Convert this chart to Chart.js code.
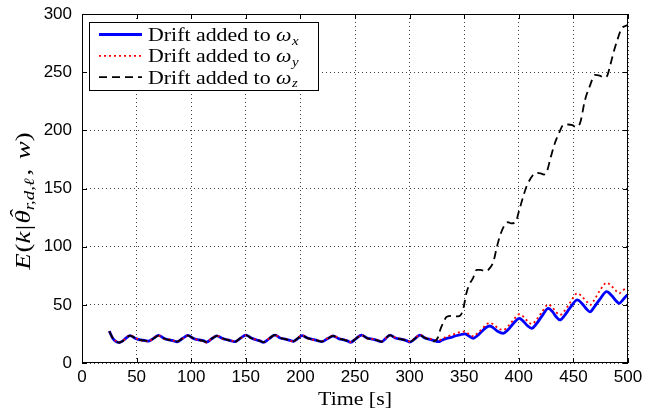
<!DOCTYPE html>
<html><head><meta charset="utf-8">
<script src="https://cdn.jsdelivr.net/npm/chart.js@4.4.1/dist/chart.umd.min.js"></script>
<style>html,body{margin:0;padding:0;background:#fff;}#wrap{width:660px;height:414px;}</style>
</head><body><div id="wrap"><canvas id="c" width="660" height="414"></canvas></div>
<script>
const xTickValues = [0, 50, 100, 150, 200, 250, 300, 350, 400, 450, 500];
const yTickValues = [0, 50, 100, 150, 200, 250, 300];

const timesXY = [25,28,31,34,37,40.5,44, 49,54,58,61,65.5,70, 75,80,84,87,92,97, 102,107,111,114,119,123.5,
  128.5,133.5,137,140,145,150, 155,160,163,166,171.5,176.7, 181.5,187,190.5,193.5,197.5,201.5,
  206.5,211,215,219.5,225,230, 235,240,243,246,251,256, 261,267,271,274.4,278,282, 287,293,297,300.4,305,309.5,
  314,318,322,326.3,330,334,338,341.6,346,350.5,354,358.4,362,366,370,373.6,377,381,385.8,390,395,400.5,404,408,411.8,
  416,421,427,431,434,437.7,442,447,453.6,458,462,465.2,469,474,480.5,485,489,492,495.5,498.8,500];

const valuesX = [27.5,21.5,18.5,17.5,18.8,21.5,23.5, 21,19.8,19.2,18.8,21.2,23.8, 21.2,19.8,19,18.2,21,23.8,
  21,19.8,19.2,18,21,23.3, 21.2,19.8,19,18.3,21.2,24, 21.5,19.8,19,17.8,21,24, 21.5,20.3,19.5,18.6,21,23.5,
  21.5,20.3,19.4,18.3,21,23.2, 21,19.8,19,17.8,21,24, 21.5,20.3,19.2,18.3,21,24, 21.5,20.3,19.2,18,21,24,
  21.5,20.5,19.5,18.3,19.8,21.2,22,23.2,24.2,25,23.5,21.2,23.5,27,30.5,31.8,30,27,25.5,28.5,34,38.4,36,32,29.8,
  33.5,40,47,44,40,37,41,47.5,54.2,51,46.5,44,48,54.5,61.3,58,53.5,51.3,54.5,58,58.5];

const valuesY = [27,22,19,17.8,18.5,21.8,23.8, 21.5,19.5,18.8,18.5,21.5,23.5, 21,20.2,19.2,18.5,20.8,23.5,
  21.2,19.5,18.8,17.6,21.3,23.6, 21,20,19.3,18.5,21,23.8, 21.2,20,19.2,18,21.2,23.8, 21.8,20.5,19.2,18.3,21.3,23.8,
  21.2,20,19.6,18.6,21.2,23.5, 21.3,20,19.3,18,21.2,23.8, 21.2,20.5,19.5,18.5,21.3,23.8, 21.8,20.5,19.5,18.4,21.3,24.3,
  22,21,20,19,21,22.5,24,25,26.5,27,25,23,25.5,29,33,34.5,33,30,28.4,31.5,37,41.9,40,36,33.5,
  37,43.5,50.4,47.5,44,41.3,45,52,59.9,57,53,49.9,54,62,69,66,62,59.9,62.5,64.5,65];

const timesZ = [25,28,31,34,37,40.5,44, 49,54,58,61,65.5,70, 75,80,84,87,92,97, 102,107,111,114,119,123.5,
  128.5,133.5,137,140,145,150, 155,160,163,166,171.5,176.7, 181.5,187,190.5,193.5,197.5,201.5,
  206.5,211,215,219.5,225,230, 235,240,243,246,251,256, 261,267,271,274.4,278,282, 287,293,297,300.4,305,309.5,
  314,318,322,326,328,331,334,338,342,346,349,352,355,358,361.4,365,369,372,376.7,380,383,387,390,393,397,
  400,404,407,413,416,420,423,425.5,429,433,437,440.7,445,449,452,456,460.6,465,469.8,474,478,481,483.5,486.5,490,494.2,497,500];

const valuesZ = [27.2,21.8,18.8,17.5,18.6,21.6,23.6, 21.2,19.6,19.3,18.8,21,23.6, 21.3,19.6,18.9,18.3,21.2,23.6,
  21.3,19.9,19,18.1,21,23.4, 21.3,19.7,19.1,18.2,21.4,23.9, 21.4,19.9,18.9,17.9,21.1,24.2, 21.6,20.4,19.4,18.5,21.2,23.6,
  21.4,20.2,19.5,18.4,20.9,23.3, 21.1,19.9,19.1,17.9,21.1,24.1, 21.4,20.2,19.3,18.4,21.1,23.9, 21.4,20.4,19.3,18.1,21.1,23.9,
  21.6,20.2,18.6,22,28.4,35,39.8,40.5,40,40.5,46,60,68,72.8,80,80,79,80,87,100,110,118.6,121,120,121,
  130,143,151.5,161.6,163.5,163,162,164,176,188.9,198,204.6,205,204.5,203,206,226,238,247.6,247,245.5,247,255,266,277,287.7,289.5,290.5];

const seriesLabels = ['x', 'y', 'z'];

const toPts = (ts, vs) => ts.map((t, i) => ({x: t, y: vs[i]}));

const dsBlue = {data: toPts(timesXY, valuesX), borderColor: '#0000ff', borderWidth: 2.8, borderDash: [], pointRadius: 0, cubicInterpolationMode: 'monotone'};
const dsRed = {data: toPts(timesXY, valuesY), borderColor: '#ff0000', borderWidth: 1.8, borderDash: [2, 3], pointRadius: 0, cubicInterpolationMode: 'monotone'};
const dsBlack = {data: toPts(timesZ, valuesZ), borderColor: '#000000', borderWidth: 1.8, borderDash: [8, 5], pointRadius: 0, cubicInterpolationMode: 'monotone'};

const SERIF = '"Liberation Serif", "Times New Roman", serif';
const SX = 1.15;

function widthPieces(ctx, pieces) {
  let w = 0;
  for (const p of pieces) { ctx.font = p.font; w += ctx.measureText(p.text).width + (p.kern || 0); }
  return w;
}
function drawPieces(ctx, pieces, x, y, sx) {
  ctx.save(); ctx.translate(x, y); ctx.scale(sx, 1);
  let cx = 0;
  for (const p of pieces) {
    ctx.font = p.font;
    const w = ctx.measureText(p.text).width;
    ctx.fillText(p.text, cx, p.dy || 0);
    if (p.hat) {
      const hw = ctx.measureText('ˆ').width;
      ctx.fillText('ˆ', cx + (w - hw) / 2 + 1.5, p.hatDy);
    }
    cx += w + (p.kern || 0);
  }
  ctx.restore();
}

const decorPlugin = {
  id: 'decor',
  afterDraw(chart) {
    const ctx = chart.ctx, a = chart.chartArea;
    const xs = chart.scales.x, ys = chart.scales.y;
    ctx.save();
    ctx.strokeStyle = '#000'; ctx.lineWidth = 1; ctx.setLineDash([]);
    ctx.strokeRect(Math.round(a.left) + 0.5, Math.round(a.top) + 0.5, Math.round(a.right - a.left) - 1, Math.round(a.bottom - a.top) - 1);
    const tl = 5;
    ctx.beginPath();
    for (const v of xTickValues) {
      const px = Math.round(xs.getPixelForValue(v)) + 0.5;
      ctx.moveTo(px, a.bottom); ctx.lineTo(px, a.bottom - tl);
      ctx.moveTo(px, a.top); ctx.lineTo(px, a.top + tl);
    }
    for (const v of yTickValues) {
      const py = Math.round(ys.getPixelForValue(v)) + 0.5;
      ctx.moveTo(a.left, py); ctx.lineTo(a.left + tl, py);
      ctx.moveTo(a.right, py); ctx.lineTo(a.right - tl, py);
    }
    ctx.stroke();

    // legend
    const bx = a.left + 7, by = a.top + 8, bw = 229, bh = 68;
    ctx.fillStyle = '#fff'; ctx.fillRect(bx, by, bw, bh);
    ctx.strokeRect(bx + 0.5, by + 0.5, bw, bh);
    const rows = [dsBlue, dsRed, dsBlack];
    rows.forEach((ds, i) => {
      const cy = by + 12.5 + i * 21.3;
      ctx.save();
      ctx.strokeStyle = ds.borderColor; ctx.lineWidth = ds.borderWidth; ctx.setLineDash(ds.borderDash);
      ctx.beginPath(); ctx.moveTo(bx + 10, cy); ctx.lineTo(bx + 53, cy); ctx.stroke();
      ctx.restore();
      ctx.fillStyle = '#000'; ctx.textBaseline = 'alphabetic'; ctx.textAlign = 'left';
      drawPieces(ctx, [
        {text: 'Drift added to ', font: '19px ' + SERIF},
        {text: 'ω', font: 'italic 19px ' + SERIF, kern: 0.5},
        {text: seriesLabels[i], font: 'italic 13px ' + SERIF, dy: 3.5}
      ], bx + 59, cy + 6.5, SX);
    });

    // x title
    ctx.fillStyle = '#000';
    const xt = [{text: 'Time [s]', font: '19px ' + SERIF}];
    const xw = widthPieces(ctx, xt) * SX;
    drawPieces(ctx, xt, (a.left + a.right) / 2 - xw / 2, 405, SX);

    // y title (rotated)
    const YSX = 1.35;
    const yt = [
      {text: 'E', font: 'italic 20px ' + SERIF, kern: 0.5},
      {text: '(', font: '20px ' + SERIF},
      {text: 'k', font: 'italic 20px ' + SERIF, kern: 1},
      {text: '|', font: '20px ' + SERIF, kern: 1},
      {text: 'θ', font: 'italic 20px ' + SERIF, hat: true, hatDy: -5},
      {text: 'r,d,ℓ', font: 'italic 14px ' + SERIF, dy: 4, kern: 2},
      {text: ', ', font: '20px ' + SERIF, kern: 2},
      {text: 'w', font: 'italic 20px ' + SERIF},
      {text: ')', font: '20px ' + SERIF}
    ];
    const yw = widthPieces(ctx, yt) * YSX;
    ctx.save();
    ctx.translate(30, 201);
    ctx.rotate(-Math.PI / 2);
    drawPieces(ctx, yt, -yw / 2, 0, YSX);
    ctx.restore();
    ctx.restore();
  }
};

new Chart(document.getElementById('c'), {
  type: 'line',
  data: {datasets: [dsBlack, dsRed, dsBlue]},
  options: {
    responsive: false, animation: false, devicePixelRatio: 1,
    layout: {padding: {top: 14, right: 32, left: 0, bottom: 0}},
    plugins: {legend: {display: false}, tooltip: {enabled: false}},
    scales: {
      x: {
        type: 'linear', min: 0, max: 500,
        afterBuildTicks: s => { s.ticks = xTickValues.map(v => ({value: v})); },
        afterFit: s => { s.height = 51; },
        grid: {drawTicks: false, color: 'rgba(0,0,0,0.75)', lineWidth: 1},
        border: {display: false, dash: [1, 3]},
        ticks: {padding: 4, color: '#000', maxRotation: 0, font: {family: '"Liberation Sans", Arial, sans-serif', size: 17}}
      },
      y: {
        type: 'linear', min: 0, max: 300,
        afterBuildTicks: s => { s.ticks = yTickValues.map(v => ({value: v})); },
        afterFit: s => { s.width = 82; },
        grid: {drawTicks: false, color: 'rgba(0,0,0,0.75)', lineWidth: 1},
        border: {display: false, dash: [1, 3]},
        ticks: {padding: 10, color: '#000', font: {family: '"Liberation Sans", Arial, sans-serif', size: 17, lineHeight: 0.45}}
      }
    }
  },
  plugins: [decorPlugin]
});
</script>
</body></html>
